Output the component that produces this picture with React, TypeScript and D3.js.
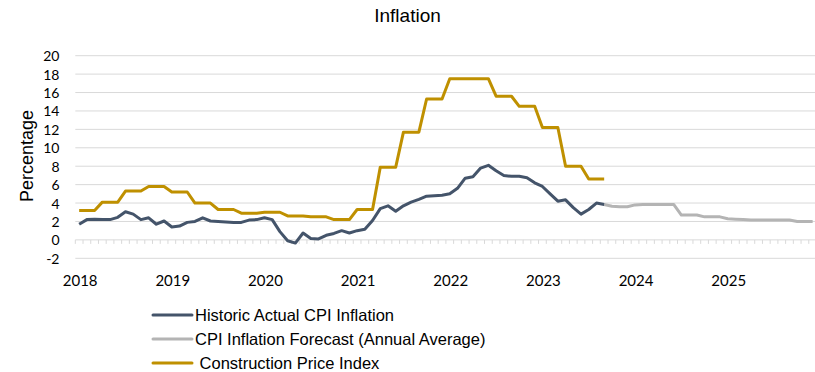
import React from "react";
import * as d3 from "d3";

const years = ["2018", "2019", "2020", "2021", "2022", "2023", "2024", "2025"];
const yTicks = [-2, 0, 2, 4, 6, 8, 10, 12, 14, 16, 18, 20];

// Monthly values starting Jan 2018
const cpiActual = [
  1.7, 2.2, 2.25, 2.2, 2.2, 2.45, 3.05, 2.8, 2.2, 2.4, 1.7, 2.05,
  1.4, 1.5, 1.9, 2.0, 2.4, 2.05, 2.0, 1.95, 1.9, 1.9, 2.15, 2.2,
  2.4, 2.2, 0.9, -0.1, -0.35, 0.75, 0.15, 0.1, 0.5, 0.7, 1.0, 0.75,
  1.0, 1.15, 2.1, 3.4, 3.7, 3.1, 3.7, 4.1, 4.4, 4.75, 4.8, 4.85,
  5.0, 5.6, 6.7, 6.85, 7.8, 8.1, 7.5, 7.0, 6.9, 6.9, 6.75, 6.2,
  5.8, 5.0, 4.2, 4.35, 3.5, 2.8, 3.3, 4.0, 3.85,
];

// Forecast starts at month index 68 (Sep 2023)
const forecastStart = 68;
const cpiForecast = [
  3.85, 3.65, 3.6, 3.6, 3.8, 3.85, 3.85, 3.85, 3.85, 3.85,
  2.7, 2.7, 2.7, 2.5, 2.5, 2.5, 2.3, 2.25, 2.2, 2.15,
  2.15, 2.15, 2.15, 2.15, 2.15, 2.0, 2.0, 2.0,
];

const construction = [
  3.2, 3.2, 3.2, 4.1, 4.1, 4.1, 5.3, 5.3, 5.3, 5.8, 5.8, 5.8,
  5.2, 5.2, 5.2, 4.0, 4.0, 4.0, 3.3, 3.3, 3.3, 2.9, 2.9, 2.9,
  3.0, 3.0, 3.0, 2.6, 2.6, 2.6, 2.5, 2.5, 2.5, 2.2, 2.2, 2.2,
  3.3, 3.3, 3.3, 7.9, 7.9, 7.9, 11.7, 11.7, 11.7, 15.3, 15.3, 15.3,
  17.5, 17.5, 17.5, 17.5, 17.5, 17.5, 15.6, 15.6, 15.6, 14.5, 14.5, 14.5,
  12.2, 12.2, 12.2, 8.0, 8.0, 8.0, 6.6, 6.6, 6.6,
];

const legendItems = [
  { label: "Historic Actual CPI Inflation", color: "#44546A" },
  { label: "CPI Inflation Forecast (Annual Average)", color: "#B4B4B4" },
  { label: " Construction Price Index", color: "#BF9000" },
];

const totalMonths = 96;

export default function App() {
  const W = 815;
  const H = 372;
  const x = d3.scaleLinear().domain([0, totalMonths]).range([75.3, 816.5]);
  const y = d3.scaleLinear().domain([-2, 20]).range([258.3, 55.7]);
  const px = (i: number) => x(i + 0.5);

  const line = d3
    .line<[number, number]>()
    .x((d) => px(d[0]))
    .y((d) => y(d[1]));

  const actualPts: [number, number][] = cpiActual.map((v, i) => [i, v]);
  const forecastPts: [number, number][] = cpiForecast.map((v, i) => [i + forecastStart, v]);
  const constrPts: [number, number][] = construction.map((v, i) => [i, v]);

  const monthTicks = d3.range(0, totalMonths + 1);

  return (
    <svg
      width={W}
      height={H}
      style={{ position: "absolute", left: 0, top: 0, background: "#fff" }}
    >
      <text
        x={407.5}
        y={21.5}
        textAnchor="middle"
        fontFamily="Liberation Sans, Arial, sans-serif"
        fontSize={19}
        fill="#000"
      >
        Inflation
      </text>

      {/* gridlines */}
      {yTicks
        .filter((t) => t !== 0)
        .map((t) => (
          <line
            key={"g" + t}
            x1={75.3}
            x2={W}
            y1={y(t)}
            y2={y(t)}
            stroke="#D9D9D9"
            strokeWidth={1}
          />
        ))}
      {/* zero axis */}
      <line x1={75.3} x2={W} y1={y(0)} y2={y(0)} stroke="#D9D9D9" strokeWidth={1} />
      {monthTicks.map((m) => (
        <line
          key={"t" + m}
          x1={x(m)}
          x2={x(m)}
          y1={y(0)}
          y2={y(0) + 4}
          stroke="#D9D9D9"
          strokeWidth={1}
        />
      ))}

      {/* y tick labels */}
      {yTicks.map((t) => (
        <text
          key={"yl" + t}
          x={59.5}
          y={y(t) + 5.5}
          textAnchor="end"
          fontFamily="Lato, Open Sans, sans-serif"
          fontSize={14}
          fill="#000"
        >
          {t}
        </text>
      ))}

      {/* x labels */}
      {years.map((yr, k) => (
        <text
          key={yr}
          x={px(k * 12) + 1}
          y={285.5}
          textAnchor="middle"
          fontFamily="Lato, Open Sans, sans-serif"
          fontSize={15}
          fill="#000"
        >
          {yr}
        </text>
      ))}

      {/* y title */}
      <text
        transform={`translate(33,156) rotate(-90)`}
        textAnchor="middle"
        fontFamily="Liberation Sans, Arial, sans-serif"
        fontSize={18}
        fill="#000"
      >
        Percentage
      </text>

      {/* series */}
      <path
        d={line(forecastPts) || ""}
        fill="none"
        stroke="#B4B4B4"
        strokeWidth={3}
        strokeLinejoin="round"
      />
      <path
        d={line(actualPts) || ""}
        fill="none"
        stroke="#44546A"
        strokeWidth={3}
        strokeLinejoin="round"
      />
      <path
        d={line(constrPts) || ""}
        fill="none"
        stroke="#BF9000"
        strokeWidth={3}
        strokeLinejoin="round"
      />

      {/* legend */}
      {legendItems.map((it, i) => {
        const ly = 315 + i * 24;
        return (
          <g key={it.label}>
            <line x1={153} x2={192} y1={ly} y2={ly} stroke={it.color} strokeWidth={3} strokeLinecap="round" />
            <text
              x={195}
              y={ly + 5.5}
              fontFamily="Liberation Sans, Arial, sans-serif"
              fontSize={16.5}
              fill="#000"
              style={{ whiteSpace: "pre" }}
            >
              {it.label}
            </text>
          </g>
        );
      })}
    </svg>
  );
}
